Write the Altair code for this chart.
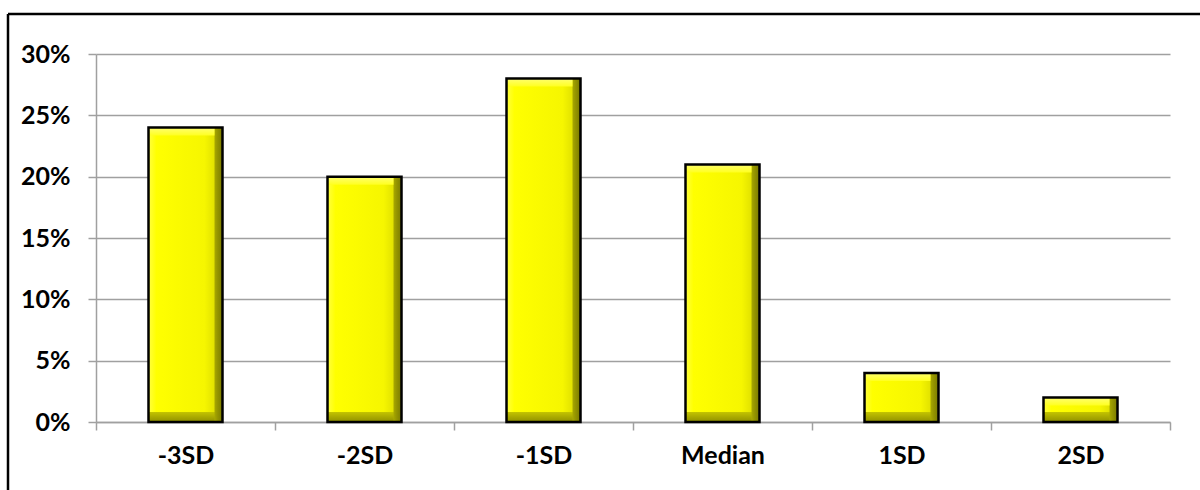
import altair as alt
import pandas as pd

# Share of cases in each standard-deviation band
categories = ["-3SD", "-2SD", "-1SD", "Median", "1SD", "2SD"]
shares = [0.24, 0.20, 0.28, 0.21, 0.04, 0.02]
y_ticks = [0.0, 0.05, 0.10, 0.15, 0.20, 0.25, 0.30]

df = pd.DataFrame({"band": categories, "share": shares})

FONT = "Lato"
FONT_SIZE = 25
BAR_W = 74
BEVEL = 8

x_enc = alt.X(
    "band:N",
    sort=categories,
    title=None,
    scale=alt.Scale(paddingInner=0.0, paddingOuter=0.0),
    axis=alt.Axis(
        labelAngle=0,
        labelFont=FONT,
        labelFontSize=FONT_SIZE,
        labelFontWeight="bold",
        labelColor="black",
        labelPadding=13,
        domainColor="#a0a0a0",
        domainWidth=1.5,
        tickColor="#a0a0a0",
        tickWidth=1.5,
        tickSize=8,
        tickBand="extent",
        grid=False,
    ),
)
y_scale = alt.Scale(domain=[0, 0.30], nice=False)
y_enc = alt.Y(
    "share:Q",
    title=None,
    scale=y_scale,
    axis=alt.Axis(
        values=y_ticks,
        format=".0%",
        labelFont=FONT,
        labelFontSize=FONT_SIZE,
        labelFontWeight="bold",
        labelColor="black",
        labelPadding=18,
        domainColor="#a0a0a0",
        domainWidth=1.5,
        tickColor="#a0a0a0",
        tickWidth=1.5,
        tickSize=8,
        gridColor="#a0a0a0",
        gridWidth=1.5,
    ),
)

base = alt.Chart(df)

# darker olive body: shows through as the right bevel
body = base.mark_bar(
    size=BAR_W,
    color=alt.Gradient(
        gradient="linear",
        x1=0, x2=1, y1=0, y2=0,
        stops=[
            alt.GradientStop(offset=0.0, color="#b4b400"),
            alt.GradientStop(offset=0.86, color="#b8b800"),
            alt.GradientStop(offset=0.93, color="#969600"),
            alt.GradientStop(offset=1.0, color="#7a7a00"),
        ],
    ),
).encode(x=x_enc, y=y_enc, y2=alt.datum(0))

# bright yellow face
face = base.mark_bar(
    size=BAR_W - BEVEL,
    xOffset=-BEVEL / 2,
    y2Offset=-BEVEL - 2,
    color=alt.Gradient(
        gradient="linear",
        x1=0, x2=1, y1=0, y2=0,
        stops=[
            alt.GradientStop(offset=0.0, color="#ffff40"),
            alt.GradientStop(offset=0.12, color="#ffff00"),
            alt.GradientStop(offset=0.85, color="#f6f600"),
            alt.GradientStop(offset=1.0, color="#e2e200"),
        ],
    ),
).encode(x=x_enc, y=y_enc, y2=alt.datum(0))

# olive bottom bevel
bottom_bevel = base.mark_bar(
    size=BAR_W - BEVEL,
    xOffset=-BEVEL / 2,
    yOffset=-BEVEL - 2,
    color=alt.Gradient(
        gradient="linear",
        x1=0, x2=0, y1=0, y2=1,
        stops=[
            alt.GradientStop(offset=0.0, color="#c4c400"),
            alt.GradientStop(offset=1.0, color="#909000"),
        ],
    ),
).encode(x=x_enc, y=alt.datum(0, scale=y_scale), y2=alt.datum(0))

# light top bevel
top_bevel = base.mark_bar(
    size=BAR_W - BEVEL,
    xOffset=-BEVEL / 2,
    y2Offset=BEVEL,
    color=alt.Gradient(
        gradient="linear",
        x1=0, x2=0, y1=0, y2=1,
        stops=[
            alt.GradientStop(offset=0.0, color="#ffff70"),
            alt.GradientStop(offset=1.0, color="#ffff20"),
        ],
    ),
).encode(x=x_enc, y=y_enc, y2="share:Q")

# black outline
outline = base.mark_bar(
    size=BAR_W,
    fillOpacity=0,
    stroke="black",
    strokeWidth=2.5,
).encode(x=x_enc, y=y_enc, y2=alt.datum(0))

# frame lines along the top and left of the chart
frame_top = alt.Chart(pd.DataFrame({"k": [0]})).mark_rule(
    color="black", strokeWidth=2.5
).encode(x=alt.value(-88), x2=alt.value(1104), y=alt.value(-40))
frame_left = alt.Chart(pd.DataFrame({"k": [0]})).mark_rule(
    color="black", strokeWidth=2.5
).encode(x=alt.value(-88), y=alt.value(-40), y2=alt.value(436))

chart = (
    alt.layer(body, face, bottom_bevel, top_bevel, outline, frame_top, frame_left)
    .properties(
        width=1074,
        height=368,
        autosize=alt.AutoSizeParams(type="none"),
        padding={"left": 96, "top": 54, "right": 30, "bottom": 68},
        background="white",
    )
    .configure_view(stroke=None)
)

chart.save("out.html", embed_options={"renderer": "svg", "actions": False})
